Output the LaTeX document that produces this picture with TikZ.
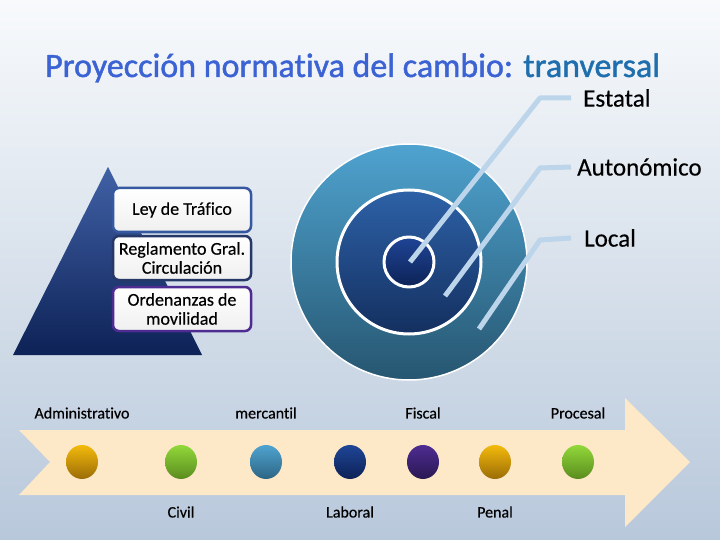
\documentclass[tikz,border=0pt]{standalone}
\usepackage{fontspec}
\setmainfont[Ligatures=NoCommon, FakeBold=0.4]{Carlito}
\newfontfamily\titlefont[Ligatures=NoCommon, FakeBold=1.3]{Carlito}
\usetikzlibrary{positioning}
\definecolor{bgtop}{HTML}{F8FAFC}
\definecolor{bgbot}{HTML}{B8C8DB}
\definecolor{titleblue}{HTML}{3B63D4}
\definecolor{titleteal}{HTML}{1F6FAE}
\definecolor{leadcol}{HTML}{BCD5EA}
\definecolor{peach}{HTML}{FDE8C8}
\definecolor{goldT}{HTML}{F4BA0C}\definecolor{goldB}{HTML}{9A6C06}
\definecolor{greenT}{HTML}{92D83A}\definecolor{greenB}{HTML}{5A8C1E}
\definecolor{steelT}{HTML}{4FA3D0}\definecolor{steelB}{HTML}{2D6584}
\definecolor{navyT}{HTML}{1F4596}\definecolor{navyB}{HTML}{0D2256}
\definecolor{purpT}{HTML}{4E2C92}\definecolor{purpB}{HTML}{2A1852}
\tikzset{
  levelbox/.style={draw=#1, line width=2.5pt, rounded corners=6pt, top color=white, bottom color=black!6,
    minimum width=138pt, minimum height=44pt, align=center, inner sep=2pt, font=\fontsize{18}{19}\selectfont},
  leader/.style={draw=leadcol, line width=5pt, line cap=butt},
  ringlabel/.style={anchor=west, inner sep=0pt, font=\fontsize{25}{26}\selectfont},
  lawlabel/.style={inner sep=0pt, font=\fontsize{16}{17}\selectfont}
}
\begin{document}
\begin{tikzpicture}[x=1pt, y=-1pt, line join=round, line cap=round]
\useasboundingbox (0,0) rectangle (720,540);
\shade[top color=bgtop, bottom color=bgbot] (0,0) rectangle (720,540);

% title
\node[anchor=base west, inner sep=0pt, font=\titlefont\fontsize{34}{36}\selectfont] (title) at (45,77)
  {\color{titleblue}Proyección normativa del cambio: \color{titleteal}tranversal};

% pyramid of norms
\shade[top color=navyT!85!white, bottom color=navyB] (108,167) -- (13,355) -- (202,355) -- cycle;
\node[levelbox=navyT!90!white] (ley) at (182,210) {Ley de Tráfico};
\node[levelbox=navyB!90!white] (regl) at (182,258) {Reglamento Gral.\\Circulación};
\node[levelbox=purpT] (orden) at (182,309) {Ordenanzas de\\movilidad};

% concentric circles
\path (409,262) coordinate (O);
\shade[draw=white, line width=1.5pt, top color=steelT, bottom color=steelB!85!black] (O) circle[radius=118];
\shade[draw=white, line width=3pt, top color=navyT!70!steelT, bottom color=navyB!80!steelB] (O) circle[radius=72];
\shade[draw=white, line width=3pt, top color=navyT, bottom color=navyB] (O) circle[radius=25];

% leaders
\node[ringlabel] (estatal) at (583,98) {Estatal};
\node[ringlabel] (auton) at (577,167) {Autonómico};
\node[ringlabel] (local) at (584,238) {Local};
\path (410,262) coordinate (s1) (540,98) coordinate (b1)
      (445,296) coordinate (s2) (540,168) coordinate (b2)
      (479,329) coordinate (s3) (540,240) coordinate (b3);
\draw[leader] (s1) -- (b1) -- ([xshift=-12pt]estatal.west);
\draw[leader] (s2) -- (b2) -- ([xshift=-6pt]auton.west);
\draw[leader] (s3) -- (b3) -- ([xshift=-13pt]local.west);

% arrow of law branches
\fill[peach] (19,430) -- (625,430) -- (625,398) -- (690,462) -- (625,527) -- (625,495) -- (19,495) -- (50,462) -- cycle;
\foreach \x/\c in {82/gold,181/green,266/steel,350/navy,423/purp,495/gold,578/green}{
  \shade[top color=\c T, bottom color=\c B] (\x,462) ellipse[x radius=16, y radius=17];
}
\foreach \x/\t in {82/Administrativo,266/mercantil,423/Fiscal,578/Procesal}{
  \node[lawlabel] (up\x) at (\x,413) {\t};
}
\foreach \x/\t in {181/Civil,350/Laboral,495/Penal}{
  \node[lawlabel] (dn\x) at (\x,512) {\t};
}
\end{tikzpicture}
\end{document}
